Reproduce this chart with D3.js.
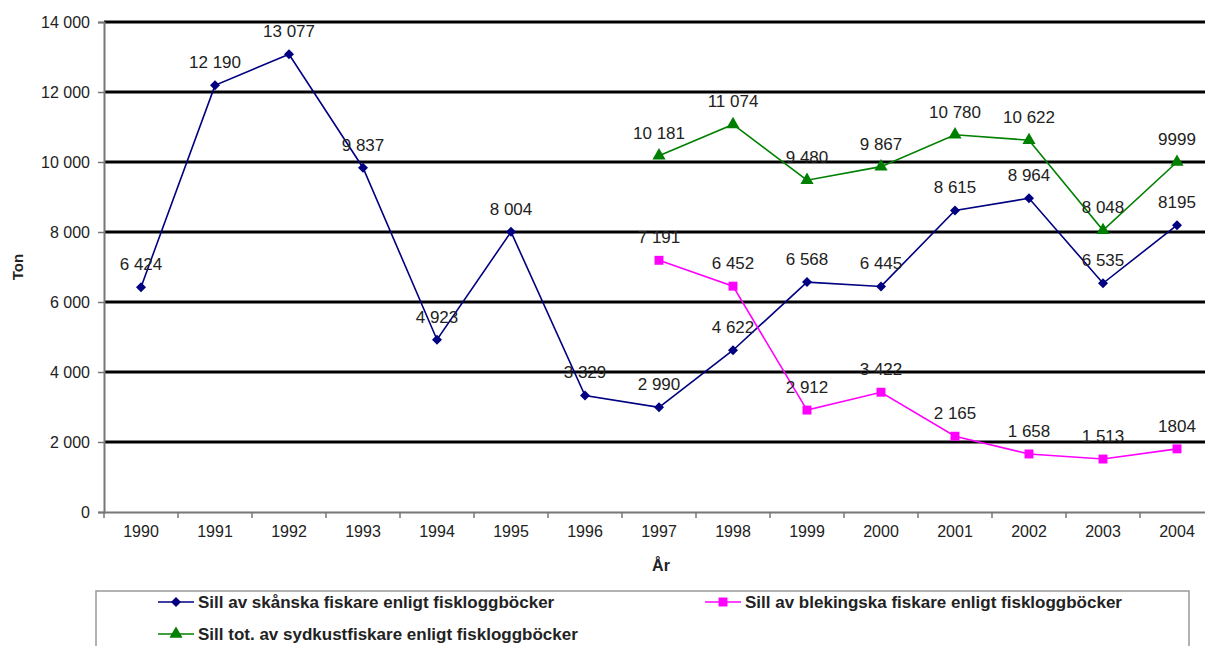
<!DOCTYPE html>
<html>
<head>
<meta charset="utf-8">
<script src="https://cdn.jsdelivr.net/npm/d3@7"></script>
<style>
  body { margin: 0; background: #fff; }
  svg { display: block; font-family: Arial, "Liberation Sans", sans-serif; }
</style>
</head>
<body>
<script>
// data
var years = [1990, 1991, 1992, 1993, 1994, 1995, 1996, 1997, 1998, 1999, 2000, 2001, 2002, 2003, 2004];
var skanska = [6424, 12190, 13077, 9837, 4923, 8004, 3329, 2990, 4622, 6568, 6445, 8615, 8964, 6535, 8195];
var blekingeYears = [1997, 1998, 1999, 2000, 2001, 2002, 2003, 2004];
var blekinge = [7191, 6452, 2912, 3422, 2165, 1658, 1513, 1804];
var sydkust = [10181, 11074, 9480, 9867, 10780, 10622, 8048, 9999];
var yTicks = [0, 2000, 4000, 6000, 8000, 10000, 12000, 14000];
// these labels were printed without a thousands space in the original
var plainLabels = [8195, 1804, 9999];

var seriesNames = [
  "Sill av skånska fiskare enligt fiskloggböcker",
  "Sill av blekingska fiskare enligt fiskloggböcker",
  "Sill tot. av sydkustfiskare enligt fiskloggböcker"
];

var width = 1205, height = 646;
var margin = {top: 22, left: 104, bottom: 134};
var textCol = "#222";

var svg = d3.select("body").append("svg")
    .attr("width", width)
    .attr("height", height);

var x = d3.scaleBand()
    .domain(years)
    .range([margin.left, margin.left + years.length * 74]);

var y = d3.scaleLinear()
    .domain([0, 14000])
    .range([height - margin.bottom, margin.top]);

var sv = d3.formatLocale({decimal: ",", thousands: " ", grouping: [3], currency: ["", ""]});
var fmt = sv.format(",d");
function label(v) { return plainLabels.indexOf(v) >= 0 ? String(v) : fmt(v); }
function cx(yr) { return x(yr) + x.bandwidth() / 2; }

// gridlines
svg.append("g").selectAll("line")
    .data(yTicks.filter(function(d) { return d > 0; }))
    .enter().append("line")
    .attr("x1", margin.left).attr("x2", width)
    .attr("y1", function(d) { return y(d); })
    .attr("y2", function(d) { return y(d); })
    .attr("stroke", "#000")
    .attr("stroke-width", 3);

// y axis
var yAxis = d3.axisLeft(y).tickValues(yTicks).tickFormat(fmt).tickSize(6).tickPadding(8);
var gy = svg.append("g")
    .attr("transform", "translate(" + margin.left + ",0)")
    .call(yAxis);
gy.select(".domain").attr("stroke", "#777").attr("stroke-width", 2);
gy.selectAll(".tick line").attr("stroke", "#777").attr("stroke-width", 1.5);
gy.selectAll(".tick text").attr("font-size", 16).attr("fill", textCol);

// x axis, ticks sit between categories
var xAxis = d3.axisBottom(x).tickSize(0).tickPadding(14);
var gx = svg.append("g")
    .attr("transform", "translate(0," + y(0) + ")")
    .call(xAxis);
gx.select(".domain").attr("stroke", "#777").attr("stroke-width", 2);
gx.selectAll(".tick text").attr("font-size", 16).attr("fill", textCol);
gx.selectAll("line.sep")
    .data(years)
    .enter().append("line")
    .attr("class", "sep")
    .attr("x1", function(d) { return x(d); })
    .attr("x2", function(d) { return x(d); })
    .attr("y1", 0).attr("y2", 6)
    .attr("stroke", "#777").attr("stroke-width", 1.5);

// axis titles
svg.append("text")
    .attr("transform", "translate(23," + y(7000) + ") rotate(-90)")
    .attr("text-anchor", "middle")
    .attr("font-size", 15).attr("font-weight", "bold").attr("fill", textCol)
    .text("Ton");
svg.append("text")
    .attr("x", (margin.left + 1214) / 2 + 2)
    .attr("y", 571)
    .attr("text-anchor", "middle")
    .attr("font-size", 16).attr("font-weight", "bold").attr("fill", textCol)
    .text("År");

var series = [
  {name: seriesNames[0], yrs: years, vals: skanska, color: "#000080", shape: d3.symbolSquare, size: 50, rot: 45},
  {name: seriesNames[1], yrs: blekingeYears, vals: blekinge, color: "#ff00ff", shape: d3.symbolSquare, size: 80, rot: 0},
  {name: seriesNames[2], yrs: blekingeYears, vals: sydkust, color: "#008000", shape: d3.symbolTriangle, size: 75, rot: 0}
];

var line = d3.line()
    .x(function(d) { return cx(d.yr); })
    .y(function(d) { return y(d.v); });

series.forEach(function(s) {
  var pts = s.vals.map(function(v, i) { return {yr: s.yrs[i], v: v}; });
  var g = svg.append("g");
  g.append("path")
      .datum(pts)
      .attr("d", line)
      .attr("fill", "none")
      .attr("stroke", s.color)
      .attr("stroke-width", 1.6);
  g.selectAll("path.m")
      .data(pts)
      .enter().append("path")
      .attr("class", "m")
      .attr("transform", function(d) { return "translate(" + cx(d.yr) + "," + y(d.v) + ") rotate(" + s.rot + ")"; })
      .attr("d", d3.symbol().type(s.shape).size(s.size))
      .attr("fill", s.color);
  g.selectAll("text")
      .data(pts)
      .enter().append("text")
      .attr("x", function(d) { return cx(d.yr); })
      .attr("y", function(d) { return y(d.v) - 17; })
      .attr("text-anchor", "middle")
      .attr("font-size", 17)
      .attr("fill", textCol)
      .text(function(d) { return label(d.v); });
});

// legend
var legend = svg.append("g");
legend.append("rect")
    .attr("x", 96).attr("y", 591)
    .attr("width", 1093).attr("height", 70)
    .attr("fill", "#fff")
    .attr("stroke", "#999").attr("stroke-width", 1.5);

var legendPos = [[158, 608], [705, 608], [158, 640]];
series.forEach(function(s, i) {
  var lg = legend.append("g")
      .attr("transform", "translate(" + legendPos[i][0] + "," + legendPos[i][1] + ")");
  lg.append("line")
      .attr("x1", 0).attr("x2", 36)
      .attr("y1", -6).attr("y2", -6)
      .attr("stroke", s.color).attr("stroke-width", 1.6);
  lg.append("path")
      .attr("transform", "translate(18,-6) rotate(" + s.rot + ")")
      .attr("d", d3.symbol().type(s.shape).size(s.size))
      .attr("fill", s.color);
  lg.append("text")
      .attr("x", 40).attr("y", 0)
      .attr("font-size", 17).attr("font-weight", "bold").attr("fill", textCol)
      .text(s.name);
});
</script>
</body>
</html>
